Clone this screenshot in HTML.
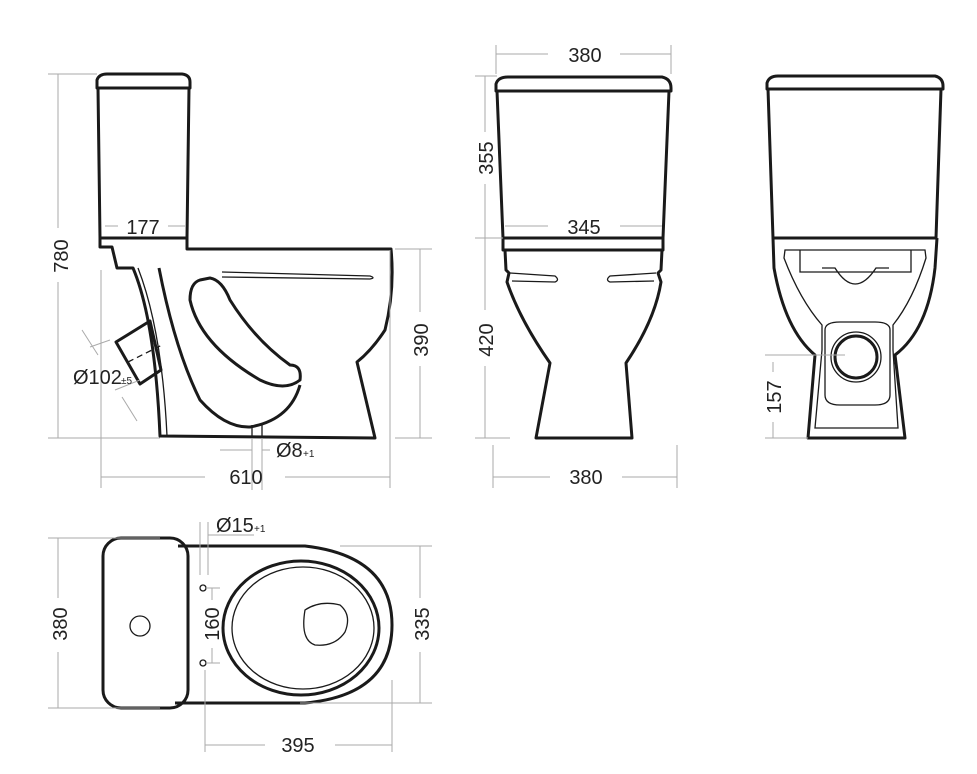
<!DOCTYPE html>
<html><head><meta charset="utf-8"><style>
html,body{margin:0;padding:0;background:#fff}
svg{display:block}
text{font-family:"Liberation Sans",sans-serif;font-size:20px;fill:#222}
.k{fill:none;stroke:#1a1a1a;stroke-width:3;stroke-linejoin:round}
.t{fill:none;stroke:#1a1a1a;stroke-width:1.3}
.d{fill:none;stroke:#aaa;stroke-width:1}
</style></head><body>
<svg width="977" height="774" viewBox="0 0 977 774" xmlns="http://www.w3.org/2000/svg">
<!-- SIDE VIEW -->
<path class="k" d="M97,88 L97,80 Q99,74 107,74 L182,74 Q190,75 190,82 L190,88 Z"/>
<path class="k" d="M98,88 L100,238 L187,238 L189,88"/>
<path class="k" d="M100,238 L100,247 L112,247 L117,268 L133,268 Q155,320 160,436 L375,438 L357,362 Q372,350 385,330 Q395,290 391,249 L187,249 L187,238"/>
<path class="t" d="M138,268 Q162,330 167,436"/>
<path class="k" d="M159,268 Q175,350 200,400 Q225,428 250,427 Q290,420 300,385"/>
<path class="k" d="M200,280 Q190,283 190,300 Q200,345 260,380 Q285,392 300,380 Q302,365 290,365 Q255,340 230,300 Q222,280 210,278 Z"/>
<path class="t" d="M222,272 L370,276 Q376,278 370,279 L222,277"/>
<path class="k" d="M116,342 L150,321 L161,370 L140,384 Z"/>
<path class="t" d="M128,362 L162,345" stroke-dasharray="6,4"/>
<line class="t" x1="252" y1="425" x2="252" y2="438"/><line class="t" x1="262" y1="425" x2="262" y2="438"/>
<!-- side dims -->
<path class="d" d="M48,74 L97,74 M58,74 L58,228 M58,282 L58,438 M48,438 L160,438 M101,270 L101,488 M390,250 L390,488 M101,477 L205,477 M285,477 L390,477 M395,249 L432,249 M395,438 L432,438 M420,249 L420,312 M420,366 L420,438 M105,226 L118,226 M168,226 L185,226 M252,438 L252,490 M262,438 L262,490 M220,450 L252,450 M262,450 L270,450 M82,330 L98,355 M90,347 L110,340 M115,390 L140,380 M122,397 L137,421"/>
<text x="68" y="256" transform="rotate(-90 68 256)" text-anchor="middle">780</text>
<text x="246" y="484" text-anchor="middle">610</text>
<text x="428" y="340" transform="rotate(-90 428 340)" text-anchor="middle">390</text>
<text x="143" y="234" text-anchor="middle">177</text>
<text x="73" y="384">Ø102</text><text x="121" y="384" style="font-size:10px">±5</text>
<text x="276" y="457">Ø8</text><text x="303" y="457" style="font-size:10px">+1</text>
<!-- FRONT VIEW -->
<path class="k" d="M496,91 L496,84 Q498,77 508,77 L662,77 Q671,79 671,88 L671,91 Z"/>
<path class="k" d="M497,91 L503,238 L663,238 L669,91"/>
<path class="k" d="M503,238 L503,250 L663,250 L663,238"/>
<path class="k" d="M505,250 L506,270 L509,273 L507,282 Q520,320 550,363 L536,438 L632,438 L626,363 Q655,320 661,282 L658,273 L661,270 L662,250"/>
<path class="t" d="M510,273 L555,276 Q560,280 555,282 L512,281 M656,273 L610,276 Q605,280 610,282 L654,281"/>
<path class="d" d="M496,45 L496,74 M671,45 L671,74 M496,54 L548,54 M620,54 L671,54 M475,76 L497,76 M485,76 L485,132 M485,184 L485,310 M485,366 L485,438 M475,238 L503,238 M475,438 L510,438 M505,226 L548,226 M620,226 L662,226 M493,445 L493,488 M677,445 L677,488 M493,477 L550,477 M622,477 L677,477"/>
<text x="585" y="62" text-anchor="middle">380</text>
<text x="493" y="158" transform="rotate(-90 493 158)" text-anchor="middle">355</text>
<text x="584" y="234" text-anchor="middle">345</text>
<text x="493" y="340" transform="rotate(-90 493 340)" text-anchor="middle">420</text>
<text x="586" y="484" text-anchor="middle">380</text>
<!-- BACK VIEW -->
<path class="k" d="M767,89 L767,83 Q769,76 778,76 L935,76 Q943,78 943,86 L943,89 Z"/>
<path class="k" d="M768,89 L773,238 L936,238 L941,89"/>
<path class="k" d="M773,238 L774,268 Q785,330 815,355 L808,438 L905,438 L895,355 Q928,330 935,268 L937,238"/>
<path class="t" d="M785,250 L784,258 Q800,300 822,325 L822,350 L815,428 L898,428 L893,350 L893,325 Q913,300 926,258 L925,250 Z"/>
<path class="t" d="M800,250 L800,272 L911,272 L911,250 M822,268 L835,268 Q855,300 876,268 L889,268"/>
<path class="t" d="M825,330 Q825,322 840,322 L875,322 Q890,322 890,330 L890,395 Q890,405 875,405 L840,405 Q825,405 825,395 Z"/>
<circle class="k" cx="856" cy="357" r="21"/><circle class="t" cx="856" cy="357" r="25"/>
<path class="d" d="M765,355 L845,355 M765,438 L808,438 M773,362 L773,372 M773,422 L773,438"/>
<text x="781" y="397" transform="rotate(-90 781 397)" text-anchor="middle">157</text>
<!-- TOP VIEW -->
<path class="k" d="M178,546 L305,546 Q392,556 392,625 Q392,695 305,703 L175,703"/>
<rect class="k" x="103" y="538" width="85" height="170" rx="18"/>
<circle class="t" cx="140" cy="626" r="10"/>
<ellipse class="k" cx="301" cy="628" rx="78" ry="67"/>
<ellipse class="t" cx="303" cy="628" rx="71" ry="61"/>
<path class="t" d="M305,610 Q320,600 340,605 Q352,615 345,632 Q335,647 315,645 Q300,640 305,610 Z"/>
<circle class="t" cx="203" cy="588" r="3"/><circle class="t" cx="203" cy="663" r="3"/>
<path class="d" d="M48,538 L160,538 M48,708 L160,708 M58,538 L58,598 M58,652 L58,708 M340,546 L432,546 M300,703 L432,703 M420,546 L420,598 M420,652 L420,703 M205,670 L205,752 M392,680 L392,752 M205,745 L265,745 M335,745 L392,745 M206,588 L220,588 M206,663 L220,663 M212,588 L212,600 M212,648 L212,663 M200,522 L200,575 M208,522 L208,575 M208,535 L254,535"/>
<text x="67" y="624" transform="rotate(-90 67 624)" text-anchor="middle">380</text>
<text x="429" y="624" transform="rotate(-90 429 624)" text-anchor="middle">335</text>
<text x="219" y="624" transform="rotate(-90 219 624)" text-anchor="middle">160</text>
<text x="298" y="752" text-anchor="middle">395</text>
<text x="216" y="532">Ø15</text><text x="254" y="532" style="font-size:10px">+1</text>
</svg>
</body></html>
